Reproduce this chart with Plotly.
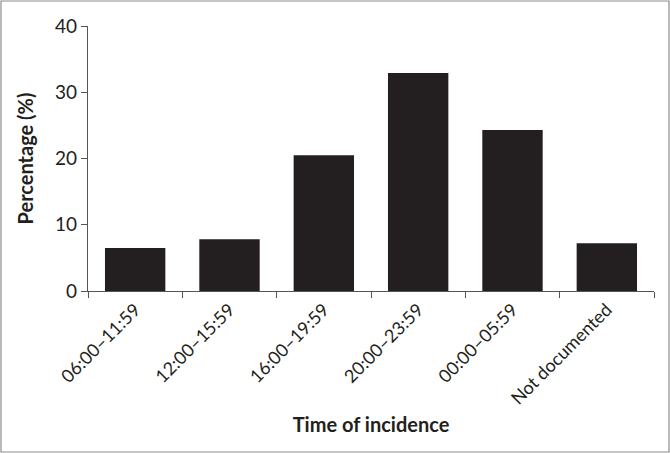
import plotly.graph_objects as go

categories = ["06:00–11:59", "12:00–15:59", "16:00–19:59", "20:00–23:59", "00:00–05:59", "Not documented"]
percentages = [6.5, 7.8, 20.5, 32.9, 24.3, 7.2]
y_ticks = [0, 10, 20, 30, 40]

W, H = 670, 453
L, R, T, B = 88, 16, 26, 162
pw, ph = W - L - R, H - T - B

fig = go.Figure(go.Bar(x=categories, y=percentages, marker=dict(color="#231f20", line=dict(width=0)),
                       width=0.64))

font = "Lato, 'Open Sans', sans-serif"
fig.update_layout(
    width=W, height=H,
    margin=dict(l=L, r=R, t=T, b=B, autoexpand=False),
    paper_bgcolor="white", plot_bgcolor="white",
    showlegend=False,
    font=dict(family=font, color="#231f20"),
    xaxis=dict(
        automargin=False,
        tickson="boundaries", ticks="outside", ticklen=6, tickcolor="#555",
        showline=True, linecolor="#555", linewidth=1.3,
        tickangle=-45, tickfont=dict(size=18, family=font),
        showgrid=False, range=[-0.5, 5.5],
        title=dict(text="<b>Time of incidence</b>", font=dict(size=20, family=font), standoff=10),
    ),
    yaxis=dict(
        automargin=False,
        range=[0, 40], tickvals=y_ticks, ticks="outside", ticklen=6, tickcolor="#555",
        showline=True, linecolor="#555", linewidth=1.3, showgrid=False, zeroline=False,
        tickfont=dict(size=19, family=font),
        title=dict(text="<b>Percentage (%)</b>", font=dict(size=20, family=font), standoff=16),
    ),
    shapes=[dict(type="rect", xref="paper", yref="paper",
                 x0=(1 - L) / pw, x1=(W - 1 - L) / pw,
                 y0=-(H - 1 - T - ph) / ph, y1=(ph + T - 1) / ph,
                 line=dict(color="#8c8c8c", width=1.2), layer="below")],
)

fig.write_html("out.html", config={"displayModeBar": False},
               post_script="document.body.style.margin='0';document.body.style.overflow='hidden';")
